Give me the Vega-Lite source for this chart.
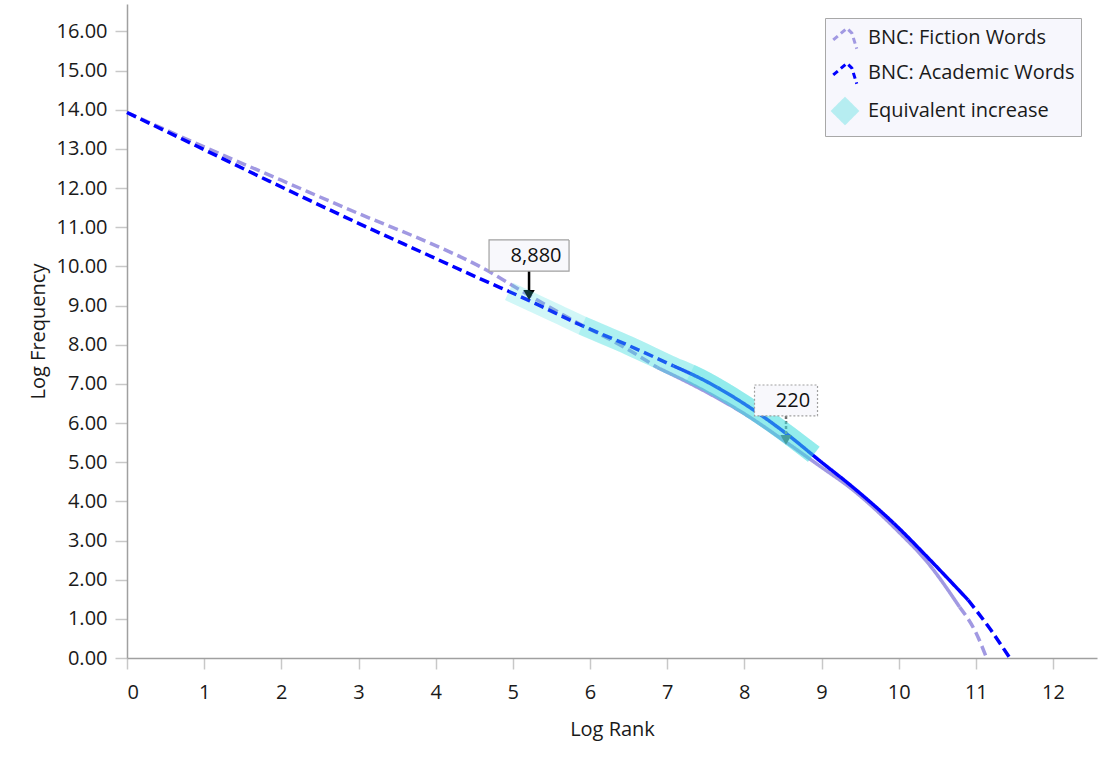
{
  "$schema": "https://vega.github.io/schema/vega-lite/v6.json",
  "width": 970,
  "height": 654,
  "autosize": {"type": "none"},
  "padding": {"left": 127, "top": 4, "right": 14, "bottom": 117},
  "background": "white",
  "config": {
    "view": {"stroke": null},
    "font": "Open Sans",
    "axis": {
      "grid": false,
      "domainColor": "#A0A0A0",
      "domainWidth": 1.5,
      "tickColor": "#C8C8C8",
      "tickWidth": 1.5,
      "labelFont": "Open Sans",
      "labelFontSize": 20,
      "labelColor": "#1A1A1A",
      "titleFont": "Open Sans",
      "titleFontSize": 20,
      "titleFontWeight": "normal",
      "titleColor": "#1A1A1A"
    }
  },
  "datasets": {
    "curves": [
      {"series": "BNC: Fiction Words", "part": "f1", "style": "dash", "x": 0, "y": 13.93},
      {"series": "BNC: Fiction Words", "part": "f1", "style": "dash", "x": 1, "y": 13.05},
      {"series": "BNC: Fiction Words", "part": "f1", "style": "dash", "x": 2, "y": 12.2},
      {"series": "BNC: Fiction Words", "part": "f1", "style": "dash", "x": 3, "y": 11.35},
      {"series": "BNC: Fiction Words", "part": "f1", "style": "dash", "x": 3.8, "y": 10.7},
      {"series": "BNC: Fiction Words", "part": "f1", "style": "dash", "x": 4.57, "y": 10.0},
      {"series": "BNC: Fiction Words", "part": "f1", "style": "dash", "x": 5.22, "y": 9.25},
      {"series": "BNC: Fiction Words", "part": "f1", "style": "dash", "x": 5.8, "y": 8.6},
      {"series": "BNC: Fiction Words", "part": "f1", "style": "dash", "x": 6.43, "y": 7.95},
      {"series": "BNC: Fiction Words", "part": "f1", "style": "dash", "x": 6.87, "y": 7.42},
      {"series": "BNC: Fiction Words", "part": "f2", "style": "solid", "x": 6.87, "y": 7.42},
      {"series": "BNC: Fiction Words", "part": "f2", "style": "solid", "x": 7.5, "y": 6.8},
      {"series": "BNC: Fiction Words", "part": "f2", "style": "solid", "x": 8.03, "y": 6.2},
      {"series": "BNC: Fiction Words", "part": "f2", "style": "solid", "x": 8.55, "y": 5.5},
      {"series": "BNC: Fiction Words", "part": "f2", "style": "solid", "x": 9, "y": 4.87},
      {"series": "BNC: Fiction Words", "part": "f2", "style": "solid", "x": 9.37, "y": 4.35},
      {"series": "BNC: Fiction Words", "part": "f2", "style": "solid", "x": 10, "y": 3.22},
      {"series": "BNC: Fiction Words", "part": "f2", "style": "solid", "x": 10.37, "y": 2.45},
      {"series": "BNC: Fiction Words", "part": "f2", "style": "solid", "x": 10.79, "y": 1.3},
      {"series": "BNC: Fiction Words", "part": "f3", "style": "dash", "x": 10.79, "y": 1.3},
      {"series": "BNC: Fiction Words", "part": "f3", "style": "dash", "x": 11, "y": 0.65},
      {"series": "BNC: Fiction Words", "part": "f3", "style": "dash", "x": 11.14, "y": 0},
      {"series": "BNC: Academic Words", "part": "a1", "style": "dash", "x": 0, "y": 13.93},
      {"series": "BNC: Academic Words", "part": "a1", "style": "dash", "x": 1, "y": 12.98},
      {"series": "BNC: Academic Words", "part": "a1", "style": "dash", "x": 1.85, "y": 12.17},
      {"series": "BNC: Academic Words", "part": "a1", "style": "dash", "x": 3, "y": 11.1},
      {"series": "BNC: Academic Words", "part": "a1", "style": "dash", "x": 3.8, "y": 10.38},
      {"series": "BNC: Academic Words", "part": "a1", "style": "dash", "x": 4.57, "y": 9.69},
      {"series": "BNC: Academic Words", "part": "a1", "style": "dash", "x": 5.22, "y": 9.12},
      {"series": "BNC: Academic Words", "part": "a1", "style": "dash", "x": 5.87, "y": 8.51},
      {"series": "BNC: Academic Words", "part": "a1", "style": "dash", "x": 6.5, "y": 7.98},
      {"series": "BNC: Academic Words", "part": "a1", "style": "dash", "x": 7.08, "y": 7.46},
      {"series": "BNC: Academic Words", "part": "a2", "style": "solid", "x": 7.08, "y": 7.46},
      {"series": "BNC: Academic Words", "part": "a2", "style": "solid", "x": 7.5, "y": 7.07},
      {"series": "BNC: Academic Words", "part": "a2", "style": "solid", "x": 8.03, "y": 6.45},
      {"series": "BNC: Academic Words", "part": "a2", "style": "solid", "x": 8.55, "y": 5.72},
      {"series": "BNC: Academic Words", "part": "a2", "style": "solid", "x": 9, "y": 5.0},
      {"series": "BNC: Academic Words", "part": "a2", "style": "solid", "x": 9.37, "y": 4.42},
      {"series": "BNC: Academic Words", "part": "a2", "style": "solid", "x": 10, "y": 3.32},
      {"series": "BNC: Academic Words", "part": "a2", "style": "solid", "x": 10.37, "y": 2.58},
      {"series": "BNC: Academic Words", "part": "a2", "style": "solid", "x": 10.9, "y": 1.48},
      {"series": "BNC: Academic Words", "part": "a3", "style": "dash", "x": 10.9, "y": 1.48},
      {"series": "BNC: Academic Words", "part": "a3", "style": "dash", "x": 11.2, "y": 0.7},
      {"series": "BNC: Academic Words", "part": "a3", "style": "dash", "x": 11.44, "y": 0}
    ],
    "band": [
      {"series": "Equivalent increase", "part": "s1", "x": 4.95, "y": 9.36},
      {"series": "Equivalent increase", "part": "s1", "x": 5.5, "y": 8.86},
      {"series": "Equivalent increase", "part": "s1", "x": 6, "y": 8.4},
      {"series": "Equivalent increase", "part": "s1", "x": 6.5, "y": 7.98},
      {"series": "Equivalent increase", "part": "s1", "x": 7, "y": 7.52},
      {"series": "Equivalent increase", "part": "s1", "x": 7.5, "y": 7.07},
      {"series": "Equivalent increase", "part": "s1", "x": 8, "y": 6.48},
      {"series": "Equivalent increase", "part": "s1", "x": 8.5, "y": 5.8},
      {"series": "Equivalent increase", "part": "s1", "x": 8.9, "y": 5.2},
      {"series": "Equivalent increase", "part": "s2", "x": 5.9, "y": 8.49},
      {"series": "Equivalent increase", "part": "s2", "x": 6.5, "y": 7.98},
      {"series": "Equivalent increase", "part": "s2", "x": 7, "y": 7.52},
      {"series": "Equivalent increase", "part": "s2", "x": 7.5, "y": 7.07},
      {"series": "Equivalent increase", "part": "s2", "x": 8, "y": 6.48},
      {"series": "Equivalent increase", "part": "s2", "x": 8.5, "y": 5.8},
      {"series": "Equivalent increase", "part": "s2", "x": 8.9, "y": 5.2},
      {"series": "Equivalent increase", "part": "s3", "x": 7.3, "y": 7.27},
      {"series": "Equivalent increase", "part": "s3", "x": 7.5, "y": 7.07},
      {"series": "Equivalent increase", "part": "s3", "x": 8, "y": 6.48},
      {"series": "Equivalent increase", "part": "s3", "x": 8.5, "y": 5.8},
      {"series": "Equivalent increase", "part": "s3", "x": 8.9, "y": 5.2}
    ],
    "notes": [
      {"x": 5.21, "y": 9.09, "label": "8,880", "kind": "solid"},
      {"x": 8.54, "y": 5.39, "label": "220", "kind": "dashed"}
    ]
  },
  "encoding": {
    "x": {
      "field": "x", "type": "quantitative",
      "scale": {"domain": [0, 12.57], "nice": false, "zero": false},
      "axis": {"values": [0,1,2,3,4,5,6,7,8,9,10,11,12], "format": "d", "tickSize": 11, "labelPadding": 13, "title": "Log Rank", "titlePadding": 17}
    },
    "y": {
      "field": "y", "type": "quantitative",
      "scale": {"domain": [0, 16.7], "nice": false, "zero": false},
      "axis": {"values": [0,1,2,3,4,5,6,7,8,9,10,11,12,13,14,15,16], "format": ".2f", "tickSize": 12, "labelPadding": 8, "title": "Log Frequency", "titlePadding": 8}
    }
  },
  "layer": [
    {
      "data": {"name": "curves"},
      "mark": {"type": "line", "strokeWidth": 3.5, "strokeCap": "butt", "interpolate": "monotone"},
      "encoding": {
        "color": {
          "field": "series", "type": "nominal",
          "scale": {
            "domain": ["BNC: Fiction Words", "BNC: Academic Words", "Equivalent increase"],
            "range": ["#A199E2", "#0000FF", "#3FDCDC"]
          },
          "legend": {
            "orient": "none", "legendX": 698, "legendY": 14,
            "title": null,
            "fillColor": "#F7F7FD", "strokeColor": "#A8A8A8",
            "padding": 6,
            "labelFont": "Open Sans", "labelFontSize": 20, "labelColor": "#1A1A1A",
            "labelOffset": 9,
            "symbolSize": 600, "symbolStrokeWidth": 3,
            "rowPadding": 2,
            "labelLimit": 400,
            "encode": {
              "symbols": {
                "update": {
                  "shape": {"signal": "datum.value === 'Equivalent increase' ? 'diamond' : 'M-0.96,0.16L0.16,-0.8L0.56,-0.4L0.96,0.88'"},
                  "strokeDash": {"signal": "datum.value === 'Equivalent increase' ? [1,0] : [6,4]"},
                  "fill": {"signal": "datum.value === 'Equivalent increase' ? '#3FDCDC' : 'transparent'"},
                  "opacity": {"signal": "datum.value === 'Equivalent increase' ? 0.35 : 1"}
                }
              }
            }
          }
        },
        "detail": {"field": "part"},
        "strokeDash": {
          "field": "style", "type": "nominal",
          "scale": {"domain": ["dash", "solid"], "range": [[10, 5], [1, 0]]},
          "legend": null
        }
      }
    },
    {
      "data": {"name": "notes"},
      "mark": {"type": "rule", "strokeWidth": 2.5, "yOffset": -31, "y2Offset": -9},
      "encoding": {
        "y2": {"field": "y"},
        "color": {"condition": {"test": "datum.kind === 'solid'", "value": "#000000"}, "value": "#707070"},
        "strokeDash": {"condition": {"test": "datum.kind === 'solid'", "value": [1, 0]}, "value": [3, 2]}
      }
    },
    {
      "data": {"name": "notes"},
      "mark": {"type": "point", "shape": "triangle-down", "filled": true, "size": 130, "yOffset": -7, "opacity": 1},
      "encoding": {
        "color": {"condition": {"test": "datum.kind === 'solid'", "value": "#000000"}, "value": "#505050"}
      }
    },
    {
      "data": {"name": "band"},
      "mark": {"type": "line", "strokeWidth": 19, "opacity": 0.24, "strokeCap": "butt", "interpolate": "monotone"},
      "encoding": {
        "color": {"field": "series", "type": "nominal"},
        "detail": {"field": "part"}
      }
    },
    {
      "data": {"name": "notes"},
      "mark": {"type": "point", "filled": true, "opacity": 1, "fill": "#F8F8FC", "stroke": "#A0A0A0", "strokeWidth": 1.2, "yOffset": -46.5},
      "encoding": {
        "shape": {"condition": {"test": "datum.kind === 'solid'", "value": "M-1,-0.39H1V0.39H-1Z"}, "value": "M-1,-0.49H1V0.49H-1Z"},
        "size": {"condition": {"test": "datum.kind === 'solid'", "value": 6400}, "value": 3969},
        "strokeDash": {"condition": {"test": "datum.kind === 'solid'", "value": [1, 0]}, "value": [2, 2]}
      }
    },
    {
      "data": {"name": "notes"},
      "mark": {"type": "text", "font": "Open Sans", "fontSize": 20, "color": "#111111", "baseline": "middle", "align": "center", "dx": 7, "yOffset": -46},
      "encoding": {
        "text": {"field": "label"}
      }
    }
  ]
}
